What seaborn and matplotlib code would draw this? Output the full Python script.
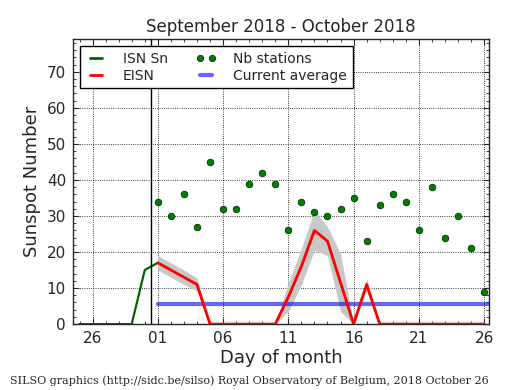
import pandas as pd
import matplotlib
matplotlib.use("Agg")
import matplotlib.pyplot as plt
import matplotlib.dates as mdates
from matplotlib.lines import Line2D
import seaborn as sns

# Datos
isn_dates = pd.date_range("2018-09-25", "2018-10-01")
isn_values = [0, 0, 0, 0, 0, 15, 17]

eisn_dates = pd.date_range("2018-10-01", "2018-10-26")
eisn_values = [17, 15, 13, 11, 0, 0, 0, 0, 0, 0, 7.5, 16, 26, 23, 11.5, 0, 11,
               0, 0, 0, 0, 0, 0, 0, 0, 0]
eisn_error = [2, 2, 2, 1.8, 0, 0, 0, 0, 0, 0, 4, 5, 5.5, 4, 8, 0, 1.7,
              0, 0, 0, 0, 0, 0, 0, 0, 0]
nb_stations = [34, 30, 36, 27, 45, 32, 32, 39, 42, 39, 26, 34, 31, 30, 32, 35,
               23, 33, 36, 34, 26, 38, 24, 30, 21, 9]
current_average = 5.6
avg_dates = pd.to_datetime(["2018-10-01", "2018-10-31"])

month_break = pd.Timestamp("2018-09-30 12:00")
x_range = (pd.Timestamp("2018-09-24 12:00"), pd.Timestamp("2018-10-26 09:00"))
y_range = (0, 79)

sns.set_style("ticks", {
    "xtick.direction": "in",
    "ytick.direction": "in",
    "xtick.top": True,
    "ytick.right": True,
})
plt.rcParams["font.family"] = ["DejaVu Sans"]

fig = plt.figure(figsize=(5.15, 3.9), dpi=100)
ax = fig.add_axes([0.1417, 0.169, 0.8078, 0.730])

df_eisn = pd.DataFrame({"date": eisn_dates, "eisn": eisn_values, "err": eisn_error})
lower = (df_eisn["eisn"] - df_eisn["err"]).clip(lower=0)
upper = df_eisn["eisn"] + df_eisn["err"]
ax.fill_between(df_eisn["date"], lower, upper, color="#c8c8c8", lw=0, zorder=1)

sns.lineplot(x=isn_dates, y=isn_values, color="darkgreen", lw=1.6, ax=ax, zorder=3)
sns.lineplot(data=df_eisn, x="date", y="eisn", color="red", lw=2, ax=ax, zorder=4)
sns.scatterplot(x=eisn_dates, y=nb_stations, color="green", edgecolor="#003000",
                linewidth=0.6, s=22, ax=ax, zorder=5)
sns.lineplot(x=avg_dates, y=[current_average] * 2, color="blue", alpha=0.6,
             lw=3, ax=ax, zorder=2)
ax.axvline(month_break, color="black", lw=1, zorder=3)

ax.set_xlim(*x_range)
ax.set_ylim(*y_range)
ax.xaxis.set_major_locator(mdates.DayLocator(bymonthday=[1, 6, 11, 16, 21, 26]))
ax.xaxis.set_major_formatter(mdates.DateFormatter("%d"))
ax.xaxis.set_minor_locator(mdates.DayLocator())
ax.yaxis.set_major_locator(plt.MultipleLocator(10))
ax.yaxis.set_minor_locator(plt.MultipleLocator(2))
ax.tick_params(which="major", length=4, width=0.8, labelsize=11, pad=5)
ax.tick_params(which="minor", length=2, width=0.6)
ax.grid(True, which="major", color="black", linestyle=":", lw=0.6)
for s in ax.spines.values():
    s.set_linewidth(1)

ax.set_title("September 2018 - October 2018", fontsize=12, pad=5)
ax.set_xlabel("Day of month", fontsize=13, labelpad=2)
ax.set_ylabel("Sunspot Number", fontsize=13)

handles = [
    Line2D([], [], color="darkgreen", lw=2),
    Line2D([], [], color="red", lw=2),
    Line2D([], [], color="green", marker="o", ls="none", ms=4.5,
           markeredgecolor="#003000", markeredgewidth=0.6),
    Line2D([], [], color="blue", alpha=0.6, lw=3),
]
labels = ["ISN Sn", "EISN", "Nb stations", "Current average"]
leg = ax.legend(handles, labels, loc="upper left", ncol=2, numpoints=2,
                fontsize=10, handlelength=1.5, handletextpad=1.2,
                columnspacing=2.0, borderpad=0.4, labelspacing=0.2,
                fancybox=False, framealpha=1, edgecolor="black")
leg.get_frame().set_linewidth(1)

fig.text(0.02, 0.015, "SILSO graphics (http://sidc.be/silso) Royal Observatory of Belgium, 2018 October 26",
         fontsize=8, family="DejaVu Serif")

fig.savefig("out.png", dpi=100)
